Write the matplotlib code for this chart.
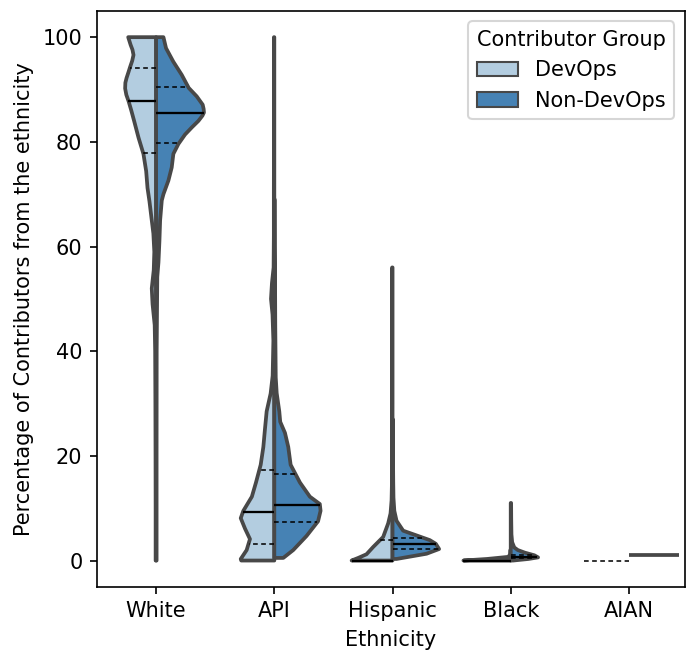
import numpy as np
import matplotlib
matplotlib.use("Agg")
import matplotlib.pyplot as plt
from matplotlib.patches import Patch

# categories and groups
ethnicities = ["White", "API", "Hispanic", "Black", "AIAN"]
groups = ["DevOps", "Non-DevOps"]
colors = ["#b3cde0", "#4682b4"]
gray = "#484848"

# density profiles (value levels, relative density)
white_devops_y = [0, 10, 20, 30, 40, 45, 49, 52, 55.5, 59, 62.5, 66.5, 68.6, 71.2, 74.4,
                  77.7, 80.8, 84.0, 86.0, 87.7, 89.0, 90.2, 91.3, 92.2, 93.3, 94.3, 95.5,
                  96.6, 97.6, 98.5, 100]
white_devops_d = [0.01, 0.01, 0.012, 0.015, 0.02, 0.03, 0.075, 0.092, 0.05, 0.038, 0.058,
                  0.112, 0.14, 0.182, 0.21, 0.268, 0.372, 0.465, 0.525, 0.58, 0.63, 0.655,
                  0.65, 0.625, 0.585, 0.55, 0.505, 0.478, 0.5, 0.538, 0.59]
white_nondev_y = [0, 20, 40, 48.8, 54.2, 57, 61, 65, 68.8, 70.0, 72.6, 75.1, 77.7, 79.6,
                  81.4, 82.8, 84.0, 85.0, 85.6, 86.3, 87.1, 88.7, 90.3, 92.8, 95.3, 97.9, 100]
white_nondev_d = [0.01, 0.01, 0.012, 0.02, 0.025, 0.05, 0.07, 0.085, 0.12, 0.155, 0.26,
                  0.33, 0.365, 0.472, 0.612, 0.76, 0.895, 0.98, 1.012, 1.005, 0.985, 0.858,
                  0.69, 0.542, 0.365, 0.21, 0.155]

api_devops_y = [0, 0.3, 2.0, 4.1, 6.1, 8.1, 9.5, 12.2, 14.9, 18.3, 21.7, 25.1, 28.5, 31.9,
                35.3, 42, 47, 50, 53, 56, 62, 70, 80, 90, 100]
api_devops_d = [0.7, 0.71, 0.585, 0.515, 0.62, 0.71, 0.655, 0.475, 0.388, 0.288, 0.232,
                0.198, 0.162, 0.078, 0.035, 0.02, 0.038, 0.07, 0.05, 0.015, 0.01, 0.01,
                0.008, 0.008, 0.008]
api_nondev_y = [0.5, 2.0, 4.7, 7.5, 9.5, 10.8, 12.2, 14.9, 18.3, 21.7, 24.4, 26.5, 28.5,
                32, 35, 45, 55, 60, 69]
api_nondev_d = [0.19, 0.4, 0.682, 0.925, 0.978, 0.962, 0.752, 0.542, 0.345, 0.295, 0.225,
                0.125, 0.105, 0.05, 0.03, 0.02, 0.015, 0.01, 0.008]

hisp_devops_y = [0, 0.5, 1.2, 2.6, 4.5, 7.1, 9.0, 11.5, 15, 20, 30, 40, 50, 56]
hisp_devops_d = [0.865, 0.725, 0.55, 0.408, 0.198, 0.092, 0.042, 0.02, 0.012, 0.01,
                 0.008, 0.008, 0.008, 0.008]
hisp_nondev_y = [0.3, 1.3, 2.2, 3.2, 3.9, 4.8, 5.7, 7.6, 9.5, 12, 15, 20, 27]
hisp_nondev_d = [0.085, 0.72, 0.985, 0.915, 0.788, 0.508, 0.225, 0.085, 0.038, 0.02,
                 0.015, 0.01, 0.008]

black_devops_y = [0, 0.3, 0.7, 1.2, 2.0]
black_devops_d = [1.0, 0.5, 0.05, 0.012, 0.008]
black_nondev_y = [0, 0.3, 0.6, 1.0, 1.5, 2.0, 2.5, 3.5, 5, 8, 11]
black_nondev_d = [0.05, 0.375, 0.578, 0.5, 0.3, 0.15, 0.075, 0.03, 0.015, 0.01, 0.008]

# AIAN: every value identical within each group
aian_devops_value = 0.0
aian_nondev_value = 1.1

# quartiles (q1, median, q3)
quartiles = {
    ("White", "DevOps"): (77.8, 87.8, 94.2),
    ("White", "Non-DevOps"): (79.7, 85.6, 90.4),
    ("API", "DevOps"): (3.2, 9.2, 17.3),
    ("API", "Non-DevOps"): (7.3, 10.6, 16.6),
    ("Hispanic", "DevOps"): (0.0, 0.0, 3.9),
    ("Hispanic", "Non-DevOps"): (2.2, 3.2, 4.4),
    ("Black", "DevOps"): (0.0, 0.0, 0.0),
    ("Black", "Non-DevOps"): (0.4, 0.7, 1.1),
}

profiles = {
    ("White", "DevOps"): (white_devops_y, white_devops_d),
    ("White", "Non-DevOps"): (white_nondev_y, white_nondev_d),
    ("API", "DevOps"): (api_devops_y, api_devops_d),
    ("API", "Non-DevOps"): (api_nondev_y, api_nondev_d),
    ("Hispanic", "DevOps"): (hisp_devops_y, hisp_devops_d),
    ("Hispanic", "Non-DevOps"): (hisp_nondev_y, hisp_nondev_d),
    ("Black", "DevOps"): (black_devops_y, black_devops_d),
    ("Black", "Non-DevOps"): (black_nondev_y, black_nondev_d),
}

HALF = 0.4  # half width of the widest violin
DASH = (0, (3.0, 2.2))

fig = plt.figure(figsize=(686 / 150, 650 / 150), dpi=150)
ax = fig.add_axes([97 / 686, 1 - 586.7 / 650, 587.5 / 686, 575.7 / 650])


def draw_half(pos, y, d, side, color):
    y = np.asarray(y, float)
    w = np.asarray(d, float) * HALF * side
    xs = np.concatenate([[pos], pos + w, [pos]])
    ys = np.concatenate([[y[0]], y, [y[-1]]])
    ax.fill(xs, ys, facecolor=color, edgecolor=gray, lw=1.8, joinstyle="round", zorder=2)


def draw_quartiles(pos, y, d, side, qs):
    for k, q in enumerate(qs):
        w = np.interp(q, y, d) * HALF * side
        if k == 1:
            ax.plot([pos, pos + w], [q, q], color="black", lw=1.1, zorder=3,
                    solid_capstyle="butt")
        else:
            ax.plot([pos, pos + w], [q, q], color="black", lw=0.75, zorder=3,
                    linestyle=DASH)


for i, eth in enumerate(ethnicities):
    for g, side, col in zip(groups, (-1, 1), colors):
        if (eth, g) not in profiles:
            continue
        y, d = profiles[(eth, g)]
        draw_half(i, y, d, side, col)
        draw_quartiles(i, y, d, side, quartiles[(eth, g)])

# degenerate AIAN halves
aian = ethnicities.index("AIAN")
ax.plot([aian - 0.38, aian], [aian_devops_value] * 2, color="black", lw=0.75,
        linestyle=DASH, zorder=3)
ax.plot([aian, aian + 0.42], [aian_nondev_value] * 2, color=gray, lw=1.8,
        solid_capstyle="butt", zorder=3)

ax.set_xlim(-0.5, 4.47)
ax.set_ylim(-5, 105)
ax.set_xticks(range(len(ethnicities)))
ax.set_xticklabels(ethnicities)
ax.set_yticks([0, 20, 40, 60, 80, 100])
ax.set_xlabel("Ethnicity")
ax.set_ylabel("Percentage of Contributors from the ethnicity")

handles = [Patch(facecolor=c, edgecolor=gray, lw=1, label=g) for g, c in zip(groups, colors)]
ax.legend(handles=handles, title="Contributor Group", loc="upper right")

fig.savefig("out.png", dpi=150)
